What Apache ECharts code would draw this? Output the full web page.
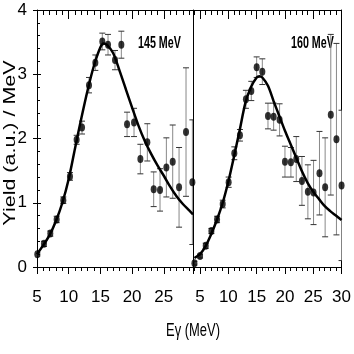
<!DOCTYPE html>
<html>
<head>
<meta charset="utf-8">
<script src="https://cdn.jsdelivr.net/npm/echarts@6/dist/echarts.min.js"></script>
<style>html,body{margin:0;padding:0;background:#fff}</style>
</head>
<body>
<div id="container" style="width:354px;height:354px"></div>
<script>
// 145 MeV panel (left)
var leftE   = [5.05, 6.1, 7.1, 8.1, 9.15, 10.2, 11.25, 12.1, 13.2, 14.2, 15.3, 16.2, 17.3, 18.3, 19.2, 20.3, 21.3, 22.4, 23.4, 24.4, 25.4, 26.4, 27.4, 28.5, 29.5];
var leftY   = [0.20, 0.36, 0.52, 0.74, 1.04, 1.41, 1.98, 2.17, 2.83, 3.18, 3.51, 3.46, 3.22, 3.46, 2.22, 2.25, 1.68, 1.94, 1.21, 1.20, 1.55, 1.64, 1.24, 2.10, 1.32];
var leftErr = [0.03, 0.04, 0.04, 0.05, 0.05, 0.06, 0.07, 0.10, 0.12, 0.12, 0.13, 0.16, 0.15, 0.21, 0.19, 0.22, 0.23, 0.29, 0.27, 0.33, 0.46, 0.57, 0.62, 1.00, 0.97];
var leftFitE = [5, 6, 7, 8, 9, 10, 11, 12, 13, 14, 15, 15.5, 16, 17, 18, 19, 20, 21, 22, 23, 24, 25, 26, 27, 28, 29, 29.6];
var leftFitY = [0.2, 0.34, 0.5, 0.72, 1.0, 1.37, 1.85, 2.32, 2.76, 3.14, 3.42, 3.48, 3.46, 3.33, 3.06, 2.77, 2.48, 2.2, 1.96, 1.76, 1.58, 1.42, 1.25, 1.1, 0.98, 0.88, 0.82];

// 160 MeV panel (right)
var rightE   = [4.0, 5.0, 6.0, 7.0, 8.0, 9.0, 10.05, 11.05, 12.05, 13.1, 14.05, 15.0, 16.0, 17.0, 18.0, 19.05, 20.0, 21.05, 22.0, 23.0, 24.05, 25.05, 26.1, 27.1, 28.1, 29.1, 30.0];
var rightY   = [0.06, 0.17, 0.33, 0.56, 0.74, 0.98, 1.32, 1.77, 2.05, 2.61, 2.74, 3.11, 3.04, 2.35, 2.34, 2.29, 1.64, 1.63, 1.68, 1.34, 1.17, 1.16, 1.46, 1.24, 2.37, 1.99, 1.27];
var rightErr = [0.03, 0.03, 0.04, 0.04, 0.05, 0.06, 0.08, 0.10, 0.09, 0.14, 0.15, 0.16, 0.20, 0.20, 0.21, 0.25, 0.24, 0.23, 0.35, 0.38, 0.42, 0.50, 0.65, 0.77, 1.25, 1.49, 1.17];
var rightFitE = [4, 5, 6, 7, 8, 9, 10, 11, 12, 13, 14, 15, 15.5, 16, 17, 18, 19, 20, 21, 22, 23, 24, 25, 26, 27, 28, 29, 30];
var rightFitY = [0.14, 0.2, 0.33, 0.52, 0.74, 1.0, 1.33, 1.72, 2.13, 2.55, 2.8, 2.95, 2.97, 2.95, 2.82, 2.58, 2.35, 2.12, 1.91, 1.7, 1.49, 1.31, 1.17, 1.06, 0.95, 0.87, 0.8, 0.73];

var rightMajorTicks = [5, 10, 15, 20, 25, 30];
var rightMinorTicks = [4, 6, 7, 8, 9, 11, 12, 13, 14, 16, 17, 18, 19, 21, 22, 23, 24, 26, 27, 28, 29];

var labelFont = '"Liberation Sans Narrow", "Liberation Sans", Arial, sans-serif';
var black = '#000';

function zip(a, b) {
    return a.map(function (v, i) { return [v, b[i]]; });
}
function errData(e, y, err) {
    return e.map(function (v, i) { return [v, y[i] - err[i], y[i] + err[i]]; });
}
function renderErr(params, api) {
    var hi = api.coord([api.value(0), api.value(2)]);
    var lo = api.coord([api.value(0), api.value(1)]);
    var w = 3;
    return {
        type: 'group',
        children: [
            {type: 'line', shape: {x1: hi[0], y1: hi[1], x2: lo[0], y2: lo[1]}, style: {stroke: '#888', lineWidth: 1}},
            {type: 'line', shape: {x1: hi[0] - w, y1: hi[1], x2: hi[0] + w, y2: hi[1]}, style: {stroke: '#333', lineWidth: 1}},
            {type: 'line', shape: {x1: lo[0] - w, y1: lo[1], x2: lo[0] + w, y2: lo[1]}, style: {stroke: '#333', lineWidth: 1}}
        ]
    };
}

var axisLine = {show: true, onZero: false, lineStyle: {color: black, width: 1}};
var noLine = {show: false, onZero: false};
var noSplit = {show: false};
var tickStyle = {color: black, width: 1};

var option = {
    animation: false,
    backgroundColor: '#fff',
    grid: [
        {left: 37, right: 161, top: 10, bottom: 87},
        {left: 193, right: 7, top: 10, bottom: 87}
    ],
    xAxis: [
        // left panel bottom
        {gridIndex: 0, type: 'value', position: 'bottom', min: 5, max: 29.6, interval: 5,
         axisLine: axisLine, splitLine: noSplit,
         axisTick: {show: true, inside: false, length: 7, lineStyle: tickStyle},
         minorTick: {show: true, splitNumber: 5, length: 4, lineStyle: tickStyle},
         axisLabel: {show: true, margin: 22, color: black, fontSize: 17, fontFamily: labelFont,
                     showMaxLabel: false}},
        // left panel top
        {gridIndex: 0, type: 'value', position: 'top', min: 5, max: 29.6, interval: 5,
         axisLine: axisLine, splitLine: noSplit, axisLabel: {show: false},
         axisTick: {show: true, inside: true, length: 9, lineStyle: tickStyle},
         minorTick: {show: true, splitNumber: 5, length: 5, lineStyle: tickStyle}},
        // right panel bottom, major
        {gridIndex: 1, type: 'value', position: 'bottom', min: 3.75, max: 30,
         axisLine: axisLine, splitLine: noSplit,
         axisTick: {show: true, inside: false, length: 7, customValues: rightMajorTicks, lineStyle: tickStyle},
         axisLabel: {show: true, margin: 22, color: black, fontSize: 17, fontFamily: labelFont,
                     customValues: rightMajorTicks}},
        // right panel bottom, minor
        {gridIndex: 1, type: 'value', position: 'bottom', min: 3.75, max: 30,
         axisLine: noLine, splitLine: noSplit, axisLabel: {show: false},
         axisTick: {show: true, inside: false, length: 4, customValues: rightMinorTicks, lineStyle: tickStyle}},
        // right panel top, major
        {gridIndex: 1, type: 'value', position: 'top', min: 3.75, max: 30,
         axisLine: axisLine, splitLine: noSplit, axisLabel: {show: false},
         axisTick: {show: true, inside: true, length: 9, customValues: rightMajorTicks, lineStyle: tickStyle}},
        // right panel top, minor
        {gridIndex: 1, type: 'value', position: 'top', min: 3.75, max: 30,
         axisLine: noLine, splitLine: noSplit, axisLabel: {show: false},
         axisTick: {show: true, inside: true, length: 5, customValues: rightMinorTicks, lineStyle: tickStyle}}
    ],
    yAxis: [
        {gridIndex: 0, type: 'value', position: 'left', min: 0, max: 4, interval: 1,
         axisLine: axisLine, splitLine: noSplit,
         axisTick: {show: true, inside: false, length: 4, lineStyle: tickStyle},
         axisLabel: {show: true, margin: 10, color: black, fontSize: 17, fontFamily: labelFont}},
        {gridIndex: 0, type: 'value', position: 'left', min: 0, max: 4, interval: 1,
         axisLine: noLine, splitLine: noSplit, axisLabel: {show: false},
         axisTick: {show: true, inside: true, length: 4, lineStyle: tickStyle},
         minorTick: {show: true, splitNumber: 5, length: 3, lineStyle: tickStyle}},
        {gridIndex: 1, type: 'value', position: 'left', min: 0, max: 4, interval: 1,
         axisLine: axisLine, splitLine: noSplit, axisLabel: {show: false}, axisTick: {show: false}},
        {gridIndex: 1, type: 'value', position: 'right', min: 0, max: 4, interval: 1,
         axisLine: axisLine, splitLine: noSplit, axisLabel: {show: false}, axisTick: {show: false}}
    ],
    graphic: [
        {type: 'text', x: 10, y: 143, rotation: Math.PI / 2, scaleY: 0.8,
         style: {text: 'Yield (a.u.) / MeV', fontSize: 21.5, fontFamily: '"Liberation Sans", Arial, sans-serif',
                 fill: black, textAlign: 'center', textVerticalAlign: 'middle'}},
        {type: 'text', x: 193, y: 331, scaleX: 0.72,
         style: {text: 'Eγ (MeV)', fontSize: 18, fontFamily: '"Liberation Sans", Arial, sans-serif',
                 fill: black, textAlign: 'center', textVerticalAlign: 'middle'}},
        {type: 'text', x: 138, y: 43, scaleX: 0.63,
         style: {text: '145 MeV', fontSize: 17, fontWeight: 'bold', fontFamily: '"Liberation Sans", Arial, sans-serif',
                 fill: black, textAlign: 'left', textVerticalAlign: 'middle'}},
        {type: 'text', x: 291, y: 43, scaleX: 0.63,
         style: {text: '160 MeV', fontSize: 17, fontWeight: 'bold', fontFamily: '"Liberation Sans", Arial, sans-serif',
                 fill: black, textAlign: 'left', textVerticalAlign: 'middle'}}
    ],
    series: [
        {type: 'custom', xAxisIndex: 0, yAxisIndex: 0, renderItem: renderErr, clip: true, z: 1,
         data: errData(leftE, leftY, leftErr)},
        {type: 'line', xAxisIndex: 0, yAxisIndex: 0, smooth: 0.3, showSymbol: false, z: 2,
         lineStyle: {color: black, width: 2.5}, data: zip(leftFitE, leftFitY)},
        {type: 'scatter', xAxisIndex: 0, yAxisIndex: 0, symbol: 'circle', symbolSize: [6, 8], z: 3,
         itemStyle: {color: black}, data: zip(leftE, leftY)},
        {type: 'custom', xAxisIndex: 2, yAxisIndex: 2, renderItem: renderErr, clip: true, z: 1,
         data: errData(rightE, rightY, rightErr)},
        {type: 'line', xAxisIndex: 2, yAxisIndex: 2, smooth: 0.3, showSymbol: false, z: 2,
         lineStyle: {color: black, width: 2.5}, data: zip(rightFitE, rightFitY)},
        {type: 'scatter', xAxisIndex: 2, yAxisIndex: 2, symbol: 'circle', symbolSize: [6, 8], z: 3,
         itemStyle: {color: black}, data: zip(rightE, rightY)}
    ]
};

var chart = echarts.init(document.getElementById('container'));
chart.setOption(option);
</script>
</body>
</html>
